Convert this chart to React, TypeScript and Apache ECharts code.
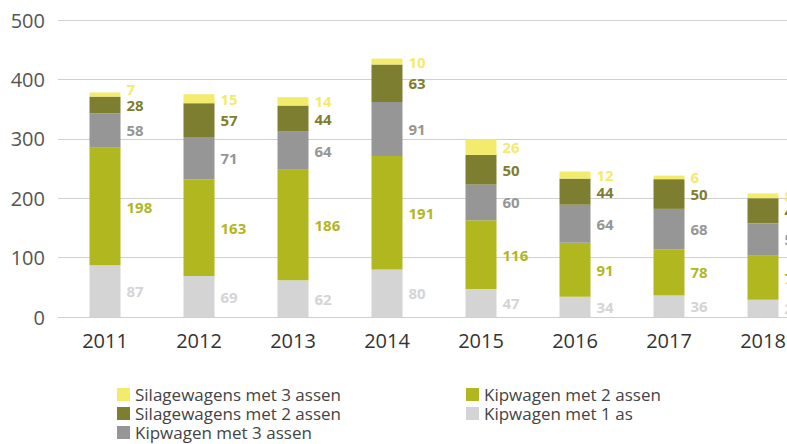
import React, { useEffect, useRef } from "react";
import * as echarts from "echarts";

const years = ["2011", "2012", "2013", "2014", "2015", "2016", "2017", "2018"];
const kip1 = [87, 69, 62, 80, 47, 34, 36, 29];
const kip2 = [198, 163, 186, 191, 116, 91, 78, 74];
const kip3 = [58, 71, 64, 91, 60, 64, 68, 55];
const sil2 = [28, 57, 44, 63, 50, 44, 50, 42];
const sil3 = [7, 15, 14, 10, 26, 12, 6, 8];

const names = {
  sil3: "Silagewagens met 3 assen",
  sil2: "Silagewagens met 2 assen",
  kip3: "Kipwagen met 3 assen",
  kip2: "Kipwagen met 2 assen",
  kip1: "Kipwagen met 1 as",
};

const colors = {
  sil3: "#f3eb6b",
  sil2: "#7e7e30",
  kip3: "#969696",
  kip2: "#b1b81f",
  kip1: "#d4d4d5",
};

const FONT = "'Open Sans', sans-serif";

function mk(name: string, data: any[], color: string) {
  return {
    name,
    type: "bar",
    stack: "total",
    barWidth: 31,
    data,
    itemStyle: { color },
    label: {
      show: true,
      position: "right",
      distance: 6,
      color,
      fontFamily: FONT,
      fontWeight: "bold",
      fontSize: 15,
    },
  };
}

// nudge the tiny top label of the first column up so it does not collide
const sil3Items = sil3.map((v, i) =>
  i === 0 ? { value: v, label: { offset: [0, -6] } } : v
);

const legendBase = {
  orient: "vertical",
  top: 386,
  height: 80,
  padding: 0,
  itemWidth: 13,
  itemHeight: 13,
  itemGap: 2,
  icon: "rect",
  textStyle: { fontFamily: FONT, fontSize: 17, color: "#444" },
};

export default function App() {
  const ref = useRef<HTMLDivElement>(null);
  useEffect(() => {
    document.body.style.margin = "0";
    document.body.style.overflow = "hidden";
    const chart = echarts.init(ref.current!, null, { renderer: "svg" });
    chart.setOption({
      animation: false,
      textStyle: { fontFamily: FONT },
      grid: { left: 58, right: 0, top: 20, bottom: 127 },
      legend: [
        { ...legendBase, data: [names.sil3, names.sil2, names.kip3], left: 117 },
        { ...legendBase, data: [names.kip2, names.kip1], left: 466 },
      ],
      xAxis: {
        type: "category",
        data: years,
        axisLine: { show: true, lineStyle: { color: "#d0d0d0" } },
        axisTick: { show: false },
        axisLabel: { color: "#333", fontSize: 20, fontFamily: FONT, margin: 13 },
      },
      yAxis: {
        type: "value",
        min: 0,
        max: 500,
        interval: 100,
        axisLine: { show: false },
        axisTick: { show: false },
        splitLine: { lineStyle: { color: "#d0d0d0" } },
        axisLabel: { color: "#555", fontSize: 20, fontFamily: FONT, margin: 13 },
      },
      series: [
        mk(names.kip1, kip1, colors.kip1),
        mk(names.kip2, kip2, colors.kip2),
        mk(names.kip3, kip3, colors.kip3),
        mk(names.sil2, sil2, colors.sil2),
        mk(names.sil3, sil3Items, colors.sil3),
      ],
    });
    return () => chart.dispose();
  }, []);
  return <div ref={ref} style={{ width: 810, height: 444 }} />;
}
